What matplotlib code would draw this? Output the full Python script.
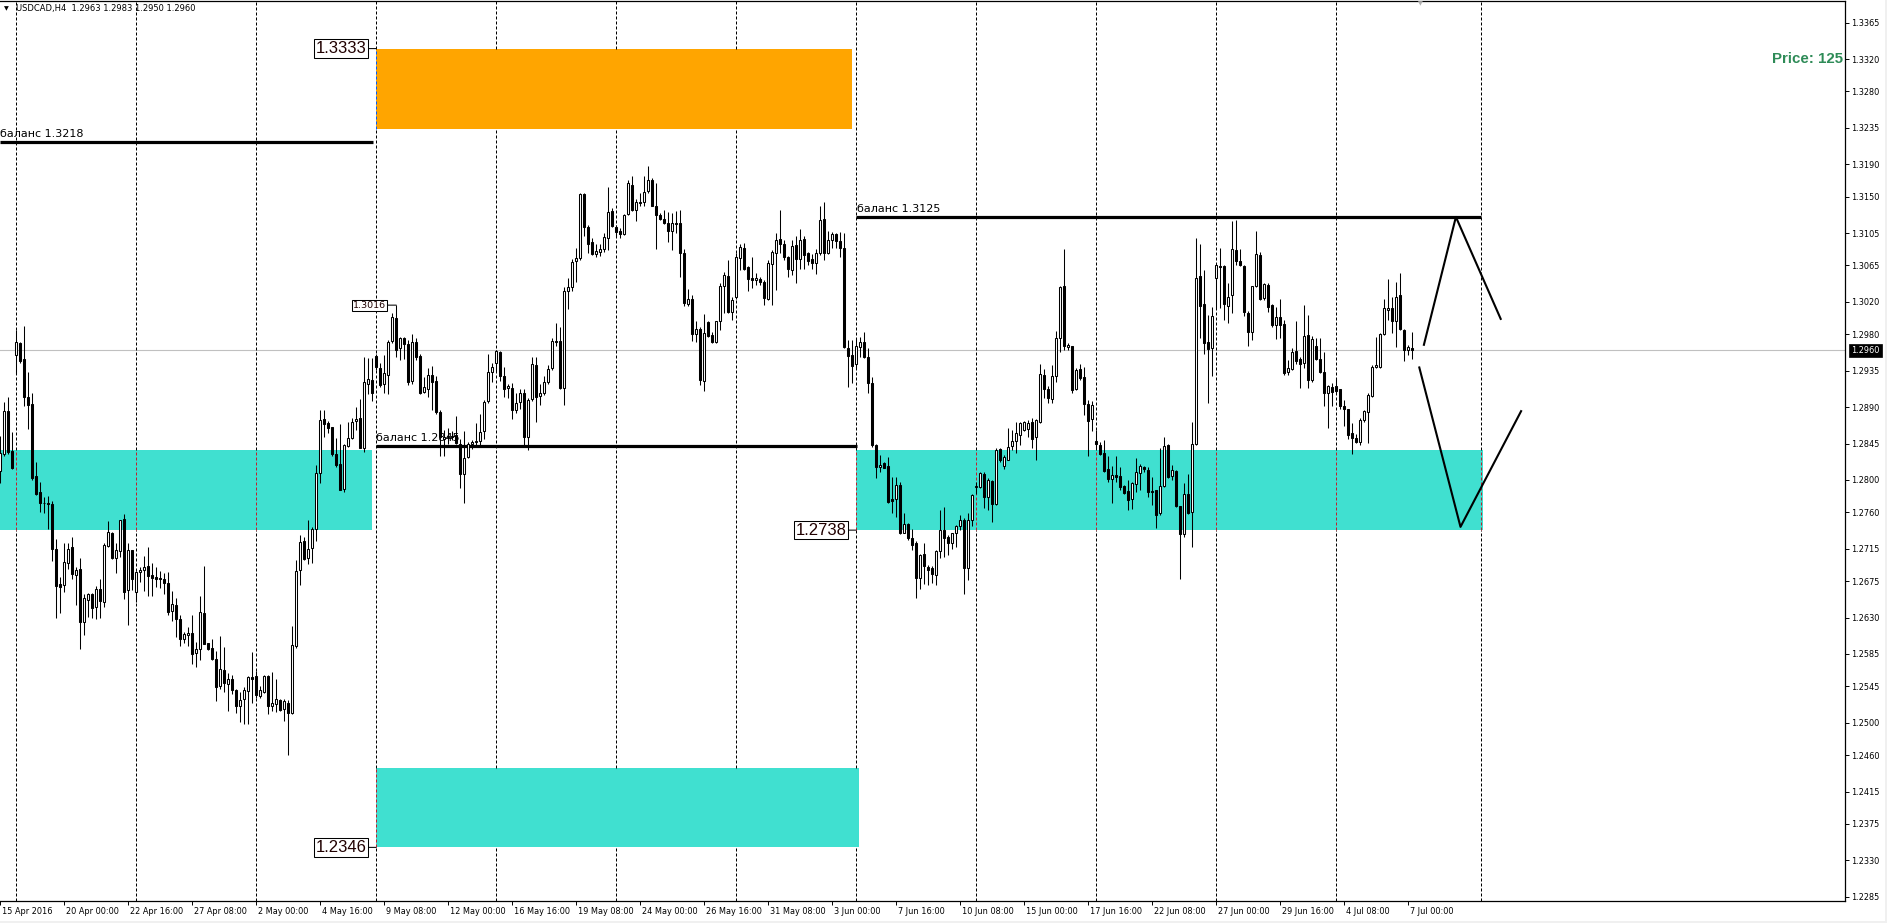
import matplotlib
matplotlib.use("Agg")
import matplotlib.pyplot as plt
import matplotlib.transforms as mtransforms
from matplotlib.patches import Rectangle
import numpy as np

plt.rcParams['font.family'] = ['DejaVu Sans']

# ---------------- data (USDCAD, H4) ----------------
opens = [
1.2811,1.2832,1.2885,1.2836,1.2954,1.2969,1.2949,1.2902,1.2894,1.2805,
1.2785,1.2772,1.2771,1.2770,1.2715,1.2671,1.2670,1.2697,1.2717,1.2683,
1.2690,1.2624,1.2652,1.2659,1.2643,1.2665,1.2649,1.2719,1.2735,1.2703,
1.2712,1.2752,1.2664,1.2713,1.2662,1.2686,1.2689,1.2694,1.2682,1.2680,
1.2679,1.2677,1.2673,1.2638,1.2645,1.2628,1.2604,1.2608,1.2611,1.2586,
1.2591,1.2636,1.2598,1.2592,1.2579,1.2546,1.2565,1.2548,1.2554,1.2540,
1.2521,1.2529,1.2539,1.2556,1.2558,1.2533,1.2538,1.2558,1.2521,1.2523,
1.2528,1.2517,1.2525,1.2512,1.2595,1.2689,1.2725,1.2704,1.2716,1.2740,
1.2808,1.2875,1.2870,1.2865,1.2832,1.2820,1.2789,1.2842,1.2852,1.2873,
1.2876,1.2840,1.2919,1.2924,1.2953,1.2938,1.2918,1.2930,1.2972,1.3000,
1.2963,1.2975,1.2968,1.2922,1.2970,1.2953,1.2909,1.2913,1.2930,1.2922,
1.2884,1.2850,1.2853,1.2854,1.2855,1.2845,1.2807,1.2828,1.2844,1.2847,
1.2848,1.2860,1.2897,1.2934,1.2944,1.2958,1.2929,1.2914,1.2914,1.2886,
1.2896,1.2907,1.2853,1.2900,1.2942,1.2904,1.2907,1.2921,1.2938,1.2972,
1.2972,1.2914,1.3033,1.3039,1.3070,1.3074,1.3153,1.3113,1.3094,1.3079,
1.3082,1.3085,1.3099,1.3132,1.3112,1.3108,1.3104,1.3129,1.3165,1.3134,
1.3143,1.3143,1.3157,1.3171,1.3138,1.3128,1.3122,1.3118,1.3108,1.3118,
1.3117,1.3080,1.3018,1.3024,1.2980,1.2987,1.2922,1.2995,1.2979,1.2970,
1.2997,1.3040,1.3052,1.3007,1.3026,1.3074,1.3087,1.3063,1.3049,1.3047,
1.3048,1.3045,1.3024,1.3067,1.3080,1.3098,1.3092,1.3075,1.3060,1.3090,
1.3073,1.3098,1.3080,1.3073,1.3068,1.3080,1.3122,1.3081,1.3097,1.3104,
1.3095,1.3087,1.2963,1.2955,1.2943,1.2964,1.2970,1.2952,1.2920,1.2843,
1.2816,1.2821,1.2817,1.2776,1.2776,1.2794,1.2735,1.2745,1.2728,1.2722,
1.2679,1.2708,1.2693,1.2691,1.2682,1.2712,1.2738,1.2729,1.2722,1.2734,
1.2743,1.2751,1.2691,1.2750,1.2791,1.2791,1.2807,1.2779,1.2799,1.2770,
1.2838,1.2817,1.2825,1.2842,1.2848,1.2855,1.2862,1.2863,1.2871,1.2853,
1.2872,1.2930,1.2912,1.2900,1.2928,1.2975,1.3040,1.2964,1.2965,1.2912,
1.2937,1.2927,1.2894,1.2875,1.2848,1.2843,1.2833,1.2813,1.2801,1.2806,
1.2805,1.2792,1.2786,1.2776,1.2795,1.2809,1.2816,1.2812,1.2786,1.2787,
1.2759,1.2792,1.2843,1.2805,1.2811,1.2768,1.2733,1.2783,1.2760,1.2845,
1.3052,1.3017,1.2970,1.2963,1.3049,1.3064,1.3064,1.3015,1.3028,1.3084,
1.3071,1.3064,1.3006,1.2983,1.3040,1.3078,1.3025,1.3041,1.3016,1.2991,
1.3001,1.2993,1.2934,1.2937,1.2959,1.2949,1.2945,1.2979,1.2923,1.2965,
1.2950,1.2933,1.2907,1.2915,1.2916,1.2912,1.2891,1.2888,1.2858,1.2852,
1.2847,1.2874,1.2884,1.2904,1.2939,1.2940,1.2980,1.3010,1.3013,1.2996,
1.3028,1.2985,1.2961,1.2963]

highs = [
1.2854,1.2896,1.2902,1.2859,1.2985,1.2970,1.2990,1.2933,1.2907,1.2822,
1.2797,1.2779,1.2780,1.2774,1.2727,1.2680,1.2722,1.2722,1.2729,1.2692,
1.2704,1.2659,1.2660,1.2660,1.2669,1.2678,1.2722,1.2749,1.2736,1.2722,
1.2751,1.2758,1.2722,1.2714,1.2687,1.2692,1.2706,1.2717,1.2698,1.2693,
1.2687,1.2685,1.2686,1.2663,1.2654,1.2633,1.2612,1.2618,1.2633,1.2600,
1.2657,1.2694,1.2599,1.2603,1.2589,1.2607,1.2593,1.2561,1.2559,1.2542,
1.2538,1.2544,1.2558,1.2587,1.2564,1.2546,1.2559,1.2559,1.2563,1.2554,
1.2529,1.2529,1.2528,1.2619,1.2701,1.2732,1.2729,1.2750,1.2742,1.2818,
1.2886,1.2886,1.2873,1.2866,1.2852,1.2869,1.2844,1.2872,1.2876,1.2890,
1.2900,1.2952,1.2951,1.2951,1.2956,1.2944,1.2955,1.2973,1.3006,1.3016,
1.2977,1.2977,1.2973,1.2980,1.2975,1.2956,1.2927,1.2938,1.2941,1.2928,
1.2886,1.2862,1.2864,1.2860,1.2879,1.2850,1.2860,1.2847,1.2849,1.2870,
1.2882,1.2899,1.2956,1.2944,1.2961,1.2959,1.2940,1.2919,1.2920,1.2907,
1.2912,1.2912,1.2901,1.2952,1.2952,1.2919,1.2928,1.2942,1.2976,1.2994,
1.2989,1.3039,1.3049,1.3073,1.3087,1.3155,1.3155,1.3115,1.3099,1.3092,
1.3092,1.3105,1.3162,1.3136,1.3115,1.3111,1.3129,1.3171,1.3175,1.3147,
1.3154,1.3175,1.3188,1.3173,1.3167,1.3130,1.3134,1.3131,1.3130,1.3132,
1.3133,1.3085,1.3036,1.3028,1.2996,1.2989,1.3005,1.2996,1.2983,1.2997,
1.3043,1.3057,1.3072,1.3026,1.3080,1.3092,1.3093,1.3064,1.3076,1.3056,
1.3051,1.3047,1.3072,1.3084,1.3105,1.3134,1.3097,1.3077,1.3097,1.3101,
1.3110,1.3101,1.3082,1.3079,1.3085,1.3138,1.3143,1.3107,1.3106,1.3105,
1.3106,1.3105,1.2973,1.2973,1.2975,1.2977,1.2983,1.2963,1.2927,1.2845,
1.2831,1.2822,1.2828,1.2804,1.2804,1.2797,1.2759,1.2747,1.2740,1.2724,
1.2709,1.2722,1.2695,1.2694,1.2713,1.2763,1.2766,1.2732,1.2735,1.2744,
1.2757,1.2753,1.2759,1.2783,1.2798,1.2810,1.2810,1.2802,1.2800,1.2839,
1.2839,1.2831,1.2864,1.2862,1.2871,1.2872,1.2873,1.2874,1.2876,1.2875,
1.2943,1.2937,1.2916,1.2942,1.2984,1.3040,1.3085,1.2969,1.2966,1.2938,
1.2943,1.2940,1.2899,1.2897,1.2862,1.2847,1.2849,1.2830,1.2817,1.2830,
1.2816,1.2794,1.2800,1.2798,1.2827,1.2820,1.2817,1.2816,1.2804,1.2788,
1.2839,1.2853,1.2845,1.2818,1.2812,1.2768,1.2796,1.2807,1.2872,1.3099,
1.3092,1.3059,1.3004,1.3014,1.3066,1.3086,1.3066,1.3043,1.3120,1.3121,
1.3085,1.3066,1.3009,1.3040,1.3108,1.3082,1.3043,1.3043,1.3018,1.3014,
1.3023,1.2998,1.2948,1.2963,1.2996,1.2952,1.3016,1.3004,1.2978,1.2976,
1.2975,1.2958,1.2917,1.2920,1.2926,1.2913,1.2899,1.2888,1.2870,1.2857,
1.2876,1.2887,1.2908,1.2942,1.2977,1.2981,1.3023,1.3048,1.3026,1.3045,
1.3056,1.2987,1.2967,1.2983]

lows = [
1.2796,1.2830,1.2832,1.2814,1.2931,1.2944,1.2891,1.2863,1.2800,1.2781,
1.2760,1.2759,1.2740,1.2700,1.2630,1.2636,1.2661,1.2690,1.2677,1.2645,
1.2591,1.2608,1.2631,1.2629,1.2628,1.2630,1.2643,1.2717,1.2702,1.2685,
1.2705,1.2653,1.2621,1.2664,1.2649,1.2674,1.2663,1.2657,1.2656,1.2668,
1.2666,1.2659,1.2633,1.2626,1.2606,1.2595,1.2599,1.2595,1.2573,1.2569,
1.2578,1.2597,1.2590,1.2577,1.2527,1.2542,1.2538,1.2514,1.2536,1.2512,
1.2501,1.2499,1.2498,1.2524,1.2530,1.2530,1.2537,1.2511,1.2514,1.2513,
1.2514,1.2502,1.2460,1.2511,1.2592,1.2670,1.2701,1.2696,1.2697,1.2724,
1.2796,1.2853,1.2858,1.2830,1.2816,1.2787,1.2785,1.2841,1.2850,1.2862,
1.2839,1.2835,1.2906,1.2898,1.2936,1.2915,1.2907,1.2906,1.2969,1.2952,
1.2948,1.2949,1.2917,1.2919,1.2948,1.2906,1.2908,1.2902,1.2886,1.2882,
1.2829,1.2829,1.2845,1.2849,1.2845,1.2790,1.2771,1.2827,1.2838,1.2843,
1.2843,1.2851,1.2895,1.2921,1.2935,1.2922,1.2902,1.2901,1.2875,1.2883,
1.2888,1.2843,1.2837,1.2898,1.2872,1.2893,1.2905,1.2919,1.2936,1.2966,
1.2912,1.2893,1.3011,1.3033,1.3045,1.3072,1.3101,1.3080,1.3078,1.3076,
1.3077,1.3082,1.3084,1.3112,1.3100,1.3099,1.3103,1.3127,1.3132,1.3120,
1.3138,1.3138,1.3155,1.3138,1.3085,1.3121,1.3116,1.3094,1.3084,1.3105,
1.3051,1.3015,1.3015,1.2972,1.2970,1.2917,1.2910,1.2977,1.2969,1.2969,
1.2985,1.3006,1.3006,1.2998,1.3024,1.3059,1.3059,1.3033,1.3037,1.3041,
1.3041,1.3016,1.3022,1.3016,1.3035,1.3080,1.3072,1.3051,1.3053,1.3043,
1.3061,1.3061,1.3066,1.3061,1.3055,1.3078,1.3072,1.3079,1.3086,1.3087,
1.3075,1.2963,1.2915,1.2920,1.2938,1.2952,1.2951,1.2907,1.2841,1.2803,
1.2810,1.2815,1.2772,1.2759,1.2754,1.2733,1.2734,1.2726,1.2714,1.2654,
1.2665,1.2672,1.2670,1.2673,1.2670,1.2704,1.2705,1.2707,1.2715,1.2717,
1.2738,1.2659,1.2676,1.2743,1.2783,1.2790,1.2765,1.2763,1.2748,1.2769,
1.2822,1.2814,1.2825,1.2837,1.2833,1.2843,1.2860,1.2853,1.2840,1.2825,
1.2870,1.2901,1.2895,1.2895,1.2921,1.2958,1.2961,1.2961,1.2908,1.2911,
1.2923,1.2880,1.2829,1.2860,1.2839,1.2831,1.2810,1.2797,1.2772,1.2798,
1.2788,1.2783,1.2763,1.2764,1.2785,1.2788,1.2810,1.2779,1.2769,1.2741,
1.2757,1.2791,1.2802,1.2800,1.2767,1.2677,1.2729,1.2758,1.2717,1.2843,
1.2975,1.2956,1.2895,1.2929,1.3012,1.3012,1.2998,1.2994,1.3006,1.3066,
1.3064,1.3002,1.2966,1.2973,1.3038,1.3022,1.3022,1.3008,1.2989,1.2974,
1.2976,1.2930,1.2930,1.2936,1.2943,1.2914,1.2938,1.2914,1.2921,1.2948,
1.2932,1.2891,1.2864,1.2891,1.2908,1.2888,1.2867,1.2850,1.2832,1.2846,
1.2843,1.2872,1.2846,1.2903,1.2938,1.2938,1.2979,1.2998,1.2981,1.2964,
1.2985,1.2947,1.2954,1.2950]

closes = [
1.2833,1.2885,1.2834,1.2815,1.2970,1.2947,1.2903,1.2892,1.2802,1.2783,
1.2772,1.2771,1.2770,1.2715,1.2669,1.2668,1.2699,1.2715,1.2684,1.2689,
1.2625,1.2654,1.2659,1.2642,1.2665,1.2650,1.2720,1.2736,1.2704,1.2713,
1.2750,1.2662,1.2714,1.2677,1.2686,1.2689,1.2692,1.2681,1.2679,1.2678,
1.2677,1.2673,1.2637,1.2647,1.2628,1.2603,1.2610,1.2611,1.2585,1.2591,
1.2637,1.2597,1.2591,1.2579,1.2544,1.2566,1.2549,1.2554,1.2540,1.2521,
1.2528,1.2540,1.2556,1.2554,1.2534,1.2540,1.2558,1.2521,1.2525,1.2529,
1.2516,1.2527,1.2512,1.2596,1.2688,1.2723,1.2702,1.2715,1.2740,1.2809,
1.2874,1.2869,1.2864,1.2832,1.2819,1.2788,1.2843,1.2852,1.2872,1.2875,
1.2840,1.2921,1.2925,1.2908,1.2939,1.2917,1.2932,1.2971,1.3001,1.2961,
1.2975,1.2968,1.2921,1.2970,1.2952,1.2908,1.2915,1.2930,1.2921,1.2884,
1.2853,1.2853,1.2854,1.2853,1.2846,1.2807,1.2827,1.2845,1.2847,1.2848,
1.2859,1.2896,1.2933,1.2939,1.2959,1.2928,1.2913,1.2916,1.2886,1.2895,
1.2907,1.2853,1.2899,1.2943,1.2903,1.2908,1.2921,1.2937,1.2972,1.2970,
1.2914,1.3033,1.3039,1.3069,1.3074,1.3153,1.3113,1.3092,1.3079,1.3083,
1.3085,1.3100,1.3131,1.3114,1.3106,1.3104,1.3128,1.3167,1.3134,1.3143,
1.3142,1.3156,1.3171,1.3139,1.3127,1.3122,1.3118,1.3107,1.3118,1.3116,
1.3080,1.3019,1.3024,1.2980,1.2987,1.2923,1.2982,1.2978,1.2970,1.2996,
1.3040,1.3053,1.3007,1.3022,1.3075,1.3088,1.3061,1.3048,1.3047,1.3049,
1.3045,1.3025,1.3068,1.3082,1.3097,1.3091,1.3075,1.3061,1.3089,1.3073,
1.3097,1.3078,1.3071,1.3068,1.3081,1.3121,1.3081,1.3096,1.3104,1.3095,
1.3087,1.2964,1.2953,1.2941,1.2965,1.2970,1.2952,1.2920,1.2843,1.2816,
1.2819,1.2815,1.2773,1.2774,1.2794,1.2734,1.2745,1.2728,1.2720,1.2679,
1.2707,1.2694,1.2689,1.2684,1.2712,1.2738,1.2728,1.2722,1.2734,1.2743,
1.2750,1.2691,1.2750,1.2781,1.2792,1.2808,1.2779,1.2800,1.2770,1.2837,
1.2825,1.2828,1.2841,1.2848,1.2858,1.2870,1.2872,1.2870,1.2851,1.2874,
1.2931,1.2912,1.2901,1.2928,1.2975,1.3038,1.2965,1.2967,1.2911,1.2936,
1.2926,1.2894,1.2873,1.2893,1.2844,1.2832,1.2811,1.2801,1.2806,1.2804,
1.2791,1.2784,1.2775,1.2796,1.2810,1.2817,1.2813,1.2785,1.2785,1.2757,
1.2793,1.2842,1.2804,1.2812,1.2768,1.2733,1.2783,1.2759,1.2844,1.3050,
1.3015,1.2969,1.2962,1.3003,1.3065,1.3063,1.3017,1.3026,1.3085,1.3071,
1.3065,1.3007,1.2983,1.3040,1.3079,1.3024,1.3042,1.3014,1.2991,1.3001,
1.2991,1.2932,1.2938,1.2958,1.2947,1.2943,1.2978,1.2923,1.2974,1.2949,
1.2933,1.2907,1.2916,1.2909,1.2910,1.2891,1.2888,1.2856,1.2852,1.2847,
1.2874,1.2885,1.2905,1.2940,1.2942,1.2980,1.3012,1.3012,1.2996,1.3026,
1.2986,1.2960,1.2964,1.2960]

xtick_bars = [0, 16, 32, 48, 64, 80, 96, 112, 128, 144, 160, 176, 192, 208,
              224, 240, 256, 272, 288, 304, 320, 336, 352]
xtick_labels = ["15 Apr 2016", "20 Apr 00:00", "22 Apr 16:00", "27 Apr 08:00",
                "2 May 00:00", "4 May 16:00", "9 May 08:00", "12 May 00:00",
                "16 May 16:00", "19 May 08:00", "24 May 00:00", "26 May 16:00",
                "31 May 08:00", "3 Jun 00:00", "7 Jun 16:00", "10 Jun 08:00",
                "15 Jun 00:00", "17 Jun 16:00", "22 Jun 08:00", "27 Jun 00:00",
                "29 Jun 16:00", "4 Jul 08:00", "7 Jul 00:00"]
ytick_labels = ["1.3365", "1.3320", "1.3280", "1.3235", "1.3190", "1.3150",
                "1.3105", "1.3065", "1.3020", "1.2980", "1.2935", "1.2890",
                "1.2845", "1.2800", "1.2760", "1.2715", "1.2675", "1.2630",
                "1.2585", "1.2545", "1.2500", "1.2460", "1.2415", "1.2375",
                "1.2330", "1.2285"]

# weekly period separators (bar index) + final vertical line
separator_bars = [4, 34, 64, 94, 124, 154, 184, 214, 244, 274, 304, 334, 370.1]

# zones (rectangles)
zone_x0 = [-1.0, 213.95, 93.95, 93.95]
zone_x1 = [92.85, 370.6, 213.0, 214.7]
zone_lo = [1.2738, 1.2738, 1.3234, 1.2346]
zone_hi = [1.2837, 1.2837, 1.3333, 1.2444]
zone_fill = ['#40E0D0', '#40E0D0', '#FFA500', '#40E0D0']
zone_xor = ['#BF1F2F', '#BF1F2F', '#005AFF', '#BF1F2F']
zone_covers_grid = [False, False, True, True]

# price labels of zones
zlabel_x = [93.95, 93.95, 213.95]
zlabel_y = [1.3333, 1.2346, 1.2738]
zlabel_txt = ["1.3333", "1.2346", "1.2738"]

# balance lines
bal_x0 = [-0.075, 93.9, 214.0]
bal_x1 = [93.2, 214.1, 370.2]
bal_y = [1.3218, 1.2842, 1.3125]
bal_txt = ["баланс 1.3218", "баланс 1.2845", "баланс 1.3125"]

# projected zigzags
zig_up_x = [355.9, 363.9, 375.1]
zig_up_y = [1.2967, 1.3125, 1.2999]
zig_dn_x = [354.75, 365.05, 380.2]
zig_dn_y = [1.2939, 1.2742, 1.2885]

high_mark_bar = 99
high_mark_val = 1.3016
bid = 1.2960
title = "USDCAD,H4  1.2963 1.2983 1.2950 1.2960"

# ---------------- figure ----------------
W, H = 1887, 923
fig = plt.figure(figsize=(W / 100, H / 100), dpi=100)
fig.patch.set_facecolor('white')
ax = fig.add_axes([0, (H - 900.7) / H, 1845 / W, (900.7 - 1) / H])
ax.set_facecolor('white')
XL = (-0.075, 461.175)
YL = (1.228011, 1.339181)
ax.set_xlim(*XL)
ax.set_ylim(*YL)

# zones
for x0, x1, lo, hi, fc in zip(zone_x0, zone_x1, zone_lo, zone_hi, zone_fill):
    ax.add_patch(Rectangle((x0, lo), x1 - x0, hi - lo, facecolor=fc,
                           edgecolor='none', zorder=1))

# separators (colour inverts inside zones; some zones hide them)
for xv in separator_bars:
    spans = []
    for x0, x1, lo, hi, xc, cov in zip(zone_x0, zone_x1, zone_lo, zone_hi,
                                        zone_xor, zone_covers_grid):
        if x0 <= xv <= x1:
            if cov and abs(xv - x0) > 0.3:
                spans.append((lo, hi, None))
            else:
                spans.append((lo, hi, xc))
    spans.sort(key=lambda s: s[0])
    cur = YL[0]
    segs = []
    for lo, hi, xc in spans:
        segs.append((cur, lo, 'black'))
        if xc is not None:
            segs.append((lo, hi, xc))
        cur = hi
    segs.append((cur, YL[1], 'black'))
    for a, b, col in segs:
        ax.plot([xv, xv], [a, b], color=col, lw=0.72,
                linestyle=(0, (3, 2)), zorder=2)

# bid line
ax.axhline(bid, color='#C0C0C0', lw=0.8, zorder=1.5)

# balance lines + text
for x0, x1, y, t in zip(bal_x0, bal_x1, bal_y, bal_txt):
    ax.plot([x0, x1], [y, y], color='black', lw=2.3, solid_capstyle='butt',
            zorder=2.2)
    ax.annotate(t, xy=(x0, y), xytext=(0.3, 3.3), textcoords='offset points',
                ha='left', va='baseline', fontsize=8.0, color='black',
                zorder=2.1)

# candles
n = min(len(opens), len(highs), len(lows), len(closes))
o = np.array(opens[:n]); h = np.array(highs[:n])
l = np.array(lows[:n]); c = np.array(closes[:n])
x = np.arange(n)
ax.vlines(x, l, h, color='black', lw=0.75, zorder=3)
up = c >= o
bb = np.minimum(o, c)
bh = np.maximum(np.abs(c - o), 1e-6)
ax.bar(x[up], bh[up], bottom=bb[up], width=0.5, color='white',
       edgecolor='black', linewidth=0.75, zorder=4)
ax.bar(x[~up], bh[~up], bottom=bb[~up], width=0.5, color='black',
       edgecolor='black', linewidth=0.75, zorder=4)

# zigzags
ax.plot(zig_up_x, zig_up_y, color='black', lw=1.5, zorder=5)
ax.plot(zig_dn_x, zig_dn_y, color='black', lw=1.5, zorder=5)

# zone price labels
for zx, zy, zt in zip(zlabel_x, zlabel_y, zlabel_txt):
    ax.annotate(zt, xy=(zx, zy), xytext=(-7, 0), textcoords='offset points',
                ha='right', va='center', fontsize=12,
                family=['Liberation Sans', 'DejaVu Sans'], color='#200000',
                bbox=dict(boxstyle='square,pad=0.1', fc='white', ec='black',
                          lw=0.75),
                arrowprops=dict(arrowstyle='-', lw=0.75, color='black',
                                shrinkA=0, shrinkB=0),
                zorder=6)

# high label
ax.annotate(f"{high_mark_val:.4f}", xy=(high_mark_bar, high_mark_val),
            xytext=(-7.2, 0), textcoords='offset points', ha='right',
            va='center', fontsize=6.8, color='#200000',
            bbox=dict(boxstyle='square,pad=0.12', fc='white', ec='black',
                      lw=0.75),
            arrowprops=dict(arrowstyle='-', lw=0.75, color='black',
                            shrinkA=0, shrinkB=0),
            zorder=6)

# axes styling
for s in ['top', 'right', 'bottom']:
    ax.spines[s].set_color('black')
    ax.spines[s].set_linewidth(0.9)
ax.spines['left'].set_visible(False)

ax.yaxis.tick_right()
yt = [float(v) for v in ytick_labels]
ax.set_yticks(yt)
ax.set_yticklabels(ytick_labels)
ax.tick_params(axis='y', direction='out', length=3, width=0.7, pad=1.5,
               labelsize=5.9, colors='black')

ax.set_xticks(xtick_bars)
ax.set_xticklabels(xtick_labels)
ax.tick_params(axis='x', direction='out', length=3, width=0.7, pad=1.8,
               labelsize=5.9, colors='black')
off = mtransforms.ScaledTranslation(1.5 / 72, 0, fig.dpi_scale_trans)
for lab in ax.get_xticklabels():
    lab.set_ha('left')
    lab.set_transform(lab.get_transform() + off)

# bid price tag on the axis
btr = mtransforms.blended_transform_factory(ax.transAxes, ax.transData)
ax.text(1.0 + 6 / 1845, bid, f"{bid:.4f}", transform=btr, ha='left',
        va='center', fontsize=5.9, color='white', clip_on=False,
        bbox=dict(boxstyle='square,pad=0.3', fc='black', ec='black', lw=0.5),
        zorder=10)

# header texts
fig.text(16 / W, 1 - 8.5 / H, title, fontsize=6, color='black',
         ha='left', va='center')
fig.text(4 / W, 1 - 8.5 / H, "\u25bc", fontsize=4.5, color='black',
         ha='left', va='center')
fig.text(1420 / W, 1 - 3.5 / H, "\u25bc", fontsize=4.5, color='#B0B0B0',
         ha='center', va='center')
fig.text(1843 / W, 1 - 59 / H, "Price: 125", fontsize=10.8,
         family=['Liberation Sans', 'DejaVu Sans'], fontweight='bold',
         color='#2E8B57', ha='right', va='center')

# light grey window border strips
fig.patches.append(Rectangle((0, 0), 1, 2.5 / H, transform=fig.transFigure,
                             facecolor='#F0F0F0', edgecolor='none'))
fig.patches.append(Rectangle((1 - 2.5 / W, 0), 2.5 / W, 1,
                             transform=fig.transFigure, facecolor='#F0F0F0',
                             edgecolor='none'))

fig.savefig("out.png", dpi=100, facecolor='white')
